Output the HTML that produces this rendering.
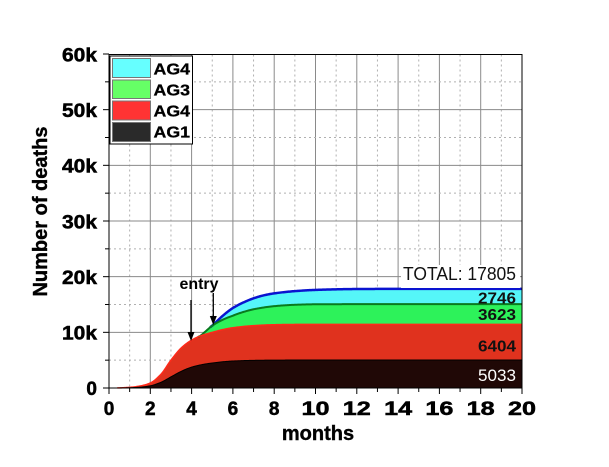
<!DOCTYPE html>
<html><head><meta charset="utf-8"><style>
html,body{margin:0;padding:0;background:#fff;}
svg{display:block;}
text{font-family:"Liberation Sans",Arial,sans-serif;}
</style></head><body>
<svg id="s" width="609" height="467" viewBox="0 0 609 467" xmlns="http://www.w3.org/2000/svg">
<rect width="609" height="467" fill="#fff"/>
<g id="grid"></g>
<g id="areas"></g>
<rect x="401" y="265" width="119" height="23" fill="#fff"/>
<rect x="109" y="54.5" width="413" height="333.5" fill="none" stroke="#000" stroke-width="1"/>
<g id="ticks" stroke="#000" stroke-width="1"></g>
<!-- y tick labels -->
<g font-weight="bold" font-size="19" text-anchor="end" fill="#000" stroke="#000" stroke-width="0.5">
<text x="97" y="61.5" textLength="35" lengthAdjust="spacingAndGlyphs">60k</text>
<text x="97" y="117" textLength="35" lengthAdjust="spacingAndGlyphs">50k</text>
<text x="97" y="172.7" textLength="35" lengthAdjust="spacingAndGlyphs">40k</text>
<text x="97" y="228.3" textLength="35" lengthAdjust="spacingAndGlyphs">30k</text>
<text x="97" y="284" textLength="35" lengthAdjust="spacingAndGlyphs">20k</text>
<text x="97" y="339.6" textLength="35" lengthAdjust="spacingAndGlyphs">10k</text>
<text x="97" y="395">0</text>
</g>
<g id="xl" font-weight="bold" font-size="19" text-anchor="middle" fill="#000" stroke="#000" stroke-width="0.5"></g>
<text x="318" y="440" font-weight="bold" font-size="20" text-anchor="middle" stroke="#000" stroke-width="0.4">months</text>
<text transform="translate(47,211.5) rotate(-90)" font-weight="bold" font-size="20" text-anchor="middle" stroke="#000" stroke-width="0.4">Number of deaths</text>
<!-- legend -->
<rect x="110" y="56" width="82.5" height="88" fill="#fff" stroke="#000" stroke-width="1"/>
<rect x="112.5" y="58.5" width="38" height="19" fill="#66ffff" stroke="#777" stroke-width="1"/>
<rect x="112.5" y="80" width="38" height="18.5" fill="#66ff66" stroke="#777" stroke-width="1"/>
<rect x="112.5" y="101" width="38" height="19" fill="#ff3333" stroke="#777" stroke-width="1"/>
<rect x="112.5" y="122.5" width="38" height="19" fill="#2a2a2a" stroke="#777" stroke-width="1"/>
<g font-weight="bold" font-size="16" fill="#000" stroke="#000" stroke-width="0.3">
<text x="153.5" y="74.3" textLength="36.5" lengthAdjust="spacingAndGlyphs">AG4</text>
<text x="153.5" y="95.3" textLength="36.5" lengthAdjust="spacingAndGlyphs">AG3</text>
<text x="153.5" y="116.3" textLength="36.5" lengthAdjust="spacingAndGlyphs">AG4</text>
<text x="153.5" y="137.5" textLength="36.5" lengthAdjust="spacingAndGlyphs">AG1</text>
</g>
<!-- annotations -->
<text x="403" y="280" font-size="18" fill="#111" textLength="113" lengthAdjust="spacingAndGlyphs">TOTAL: 17805</text>
<g font-weight="bold" font-size="16" text-anchor="end">
<text x="516" y="303.3" fill="#111" textLength="38" lengthAdjust="spacingAndGlyphs">2746</text>
<text x="516" y="320" fill="#111" textLength="38" lengthAdjust="spacingAndGlyphs">3623</text>
<text x="516" y="351.7" fill="#111" textLength="38" lengthAdjust="spacingAndGlyphs">6404</text>
</g>
<text x="516" y="381" font-size="16.5" text-anchor="end" fill="#fff" textLength="38" lengthAdjust="spacingAndGlyphs">5033</text>
<text x="179.5" y="289" font-weight="bold" font-size="16" fill="#000" textLength="39" lengthAdjust="spacingAndGlyphs">entry</text>
<g stroke="#000" stroke-width="1.3">
<line x1="191" y1="300" x2="191" y2="334"/>
<line x1="213.3" y1="293" x2="213.3" y2="318"/>
</g>
<polygon points="187.5,332 194.5,332 191,341" fill="#000"/>
<polygon points="209.8,316 216.8,316 213.3,325" fill="#000"/>
</svg>
<script>
(function(){
var NS="http://www.w3.org/2000/svg";
function X(t){return 109+t*20.65;}
function Y(v){return 388-v*0.0055667;}
function el(p,name,attrs){var e=document.createElementNS(NS,name);for(var k in attrs)e.setAttribute(k,attrs[k]);p.appendChild(e);return e;}
var grid=document.getElementById('grid');
for(var m=1;m<20;m++){
  var x=X(m);
  if(m%2==0) el(grid,'line',{x1:x,y1:54.5,x2:x,y2:388,stroke:'#8a8a8a','stroke-width':1});
  else el(grid,'line',{x1:x,y1:54.5,x2:x,y2:388,stroke:'#b0b0b0','stroke-width':1,'stroke-dasharray':'2,3'});
}
for(var k=1;k<12;k++){
  var y=Y(k*5000);
  if(k%2==0) el(grid,'line',{x1:109,y1:y,x2:522,y2:y,stroke:'#8a8a8a','stroke-width':1});
  else el(grid,'line',{x1:109,y1:y,x2:522,y2:y,stroke:'#b0b0b0','stroke-width':1,'stroke-dasharray':'2,3'});
}
var ticks=document.getElementById('ticks');
for(var k=0;k<=12;k++){
  var y=Y(k*5000);
  el(ticks,'line',{x1:(k%2==0?103:105),y1:y,x2:109,y2:y});
}
for(var m=0;m<=20;m++){
  var x=X(m);
  el(ticks,'line',{x1:x,y1:388,x2:x,y2:(m%2==0?394:392)});
}
var xl=document.getElementById('xl');
for(var m=0;m<=20;m+=2){
  var a={x:X(m),y:415};
  if(m>=10){a.textLength=28;a.lengthAdjust='spacingAndGlyphs';}
  var t=el(xl,'text',a);t.textContent=String(m);
}
function pchip(P){
  var xs=P.map(function(p){return p[0];}),ys=P.map(function(p){return p[1];});
  var n=xs.length,d=[],mm=new Array(n);
  for(var i=0;i<n-1;i++)d.push((ys[i+1]-ys[i])/(xs[i+1]-xs[i]));
  mm[0]=d[0];mm[n-1]=d[n-2];
  for(var i=1;i<n-1;i++){
    if(d[i-1]*d[i]<=0)mm[i]=0;
    else{var h0=xs[i]-xs[i-1],h1=xs[i+1]-xs[i];var w1=2*h1+h0,w2=h1+2*h0;mm[i]=(w1+w2)/(w1/d[i-1]+w2/d[i]);}
  }
  return function(x){
    var i=0;while(i<n-2&&x>xs[i+1])i++;
    var h=xs[i+1]-xs[i],t=(x-xs[i])/h,t2=t*t,t3=t2*t;
    return (2*t3-3*t2+1)*ys[i]+(t3-2*t2+t)*h*mm[i]+(-2*t3+3*t2)*ys[i+1]+(t3-t2)*h*mm[i+1];
  };
}
var Rp=[[0,0],[0.5,20],[1,120],[1.5,350],[2,900],[2.5,2400],[3,5000],[3.5,7200],[4,8600],[4.5,9450],[5,10000],[5.5,10480],[6,10830],[7,11200],[8,11370],[9,11420],[10,11436],[20,11436]];
var R=pchip(Rp);
var Gp=[[0,0],[0.5,20],[1,120],[1.5,350],[2,900],[2.5,2400],[3,5000],[3.5,7200],[4,8600],[4.4,R(4.4)],[4.7,10250],[5,11200],[5.5,12250],[6,13000],[6.5,13650],[7,14140],[8,14700],[9,14950],[10,15040],[12,15059],[20,15059]];
var G0=pchip(Gp);
function G(x){return Math.max(G0(x),R(x));}
var Tp=[[4,8600],[4.4,R(4.4)],[4.7,10250],[5,11200],[5.5,12950],[6,14370],[6.5,15350],[7,16110],[7.5,16650],[8,17000],[9,17400],[10,17620],[12,17780],[14,17805],[20,17805]];
var T0=pchip(Tp);
function T(x){return x<5?G(x):Math.max(T0(x),G(x));}
var Dp=[[0,0],[0.5,10],[1,50],[1.5,150],[2,400],[2.5,1000],[3,2000],[3.5,3000],[4,3750],[4.5,4200],[5,4500],[6,4850],[7,4970],[8,5010],[10,5030],[20,5033]];
var D0=pchip(Dp);
function D(x){return Math.min(D0(x),R(x));}
function pts(f,a,b){var s=[];for(var t=a;t<=b+1e-9;t+=0.05){s.push(X(t).toFixed(2)+','+Y(Math.max(0,f(t))).toFixed(2));}return s;}
var areas=document.getElementById('areas');
function area(f,col){var s=pts(f,0,20);el(areas,'polygon',{points:X(0)+','+Y(0)+' '+s.join(' ')+' '+X(20)+','+Y(0),fill:col});}
area(T,'#55f6f8');area(G,'#2df25a');area(R,'#e0321e');area(D,'#200806');
function line(f,a,b,col,w){el(areas,'polyline',{points:pts(f,a,b).join(' '),fill:'none',stroke:col,'stroke-width':w,'stroke-linejoin':'round'});}
line(T,4.9,20,'#0a14d0',2.5);
line(G,4.3,20,'#0a7a1e',2);
line(R,0.4,20,'#ff2a1a',1.5);
line(D,0,20,'#000',1);
})();
</script>
</body></html>
